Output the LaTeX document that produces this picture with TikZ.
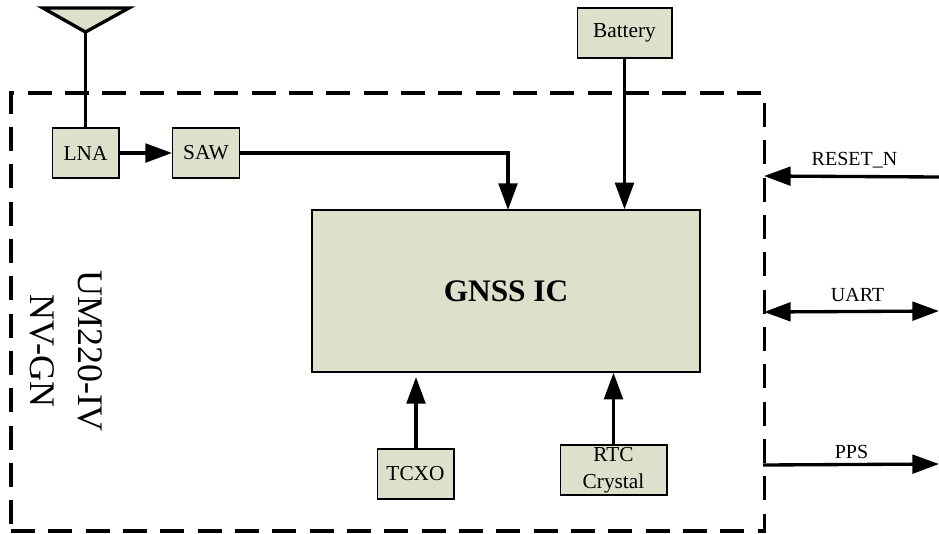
\documentclass[tikz,border=0pt]{standalone}
\usepackage{fontspec}
\setmainfont{Liberation Serif}
\usetikzlibrary{arrows.meta}
\definecolor{boxgreen}{HTML}{DDE0CB}
\tikzset{
  block/.style={draw,line width=1pt,fill=boxgreen,inner sep=0pt,align=center,font=\fontsize{16}{20}\selectfont},
  wire/.style={line width=2.5pt},
  sig/.style={wire,-{Triangle[length=20pt,width=14pt]}},
  siglabel/.style={inner sep=0pt,font=\fontsize{15}{18}\selectfont},
}
\begin{document}
\begin{tikzpicture}[x=0.75pt,y=-0.75pt]
            \useasboundingbox (0,0) rectangle (939,533);
            \node [draw,line width=2.5pt,dash pattern=on 18pt off 10pt,minimum width=565pt,minimum height=328.5pt,inner sep=0pt] (module) at (387.5,312) {};
            \node [block,minimum width=50pt,minimum height=37.5pt] (lna) at (85.5,153) {LNA};
            \node [block,minimum width=50pt,minimum height=37.5pt] (saw) at (206,153) {SAW};
            \node [block,minimum width=291pt,minimum height=121.5pt,font=\fontsize{23.5}{28}\selectfont\bfseries] (gnss) at (506,291) {GNSS IC};
            \node [block,minimum width=71pt,minimum height=37.5pt] (battery) at (624.5,33) {Battery};
            \node [block,minimum width=57.5pt,minimum height=37.5pt] (tcxo) at (415.5,474) {TCXO};
            \node [block,minimum width=80pt,minimum height=37.5pt] (rtc) at (613.5,470) {RTC\\Crystal};
            % antenna
            \draw [line width=2.5pt,line join=miter,fill=boxgreen] (43,8) -- (129,8) -- (85.5,32) -- cycle;
            \coordinate (ant) at (85.5,32);
            \draw [wire] (ant) -- (lna.north);
            \draw [sig] (lna.east) -- (saw.west);
            \coordinate (sawin) at (508,210);
            \draw [sig] (saw.east) -| (sawin);
            \draw [sig] (battery.south) -- (battery.south |- gnss.north);
            \coordinate (tcxoin) at (416,377);
            \draw [sig] (tcxo.north -| tcxoin) -- (tcxoin);
            \draw [sig] (rtc.north) -- (rtc.north |- gnss.south);
            % interface lines
            \coordinate (resetend) at (939,177);
            \coordinate (resetin) at (764,176);
            \coordinate (uartend) at (939,311);
            \coordinate (uartin) at (764,312);
            \coordinate (ppsend) at (939,464);
            \coordinate (ppsout) at (763,465);
            \draw [sig] (resetend) -- (resetin);
            \draw [sig,{Triangle[length=20pt,width=14pt]}-{Triangle[length=20pt,width=14pt]}] (uartin) -- (uartend);
            \draw [sig] (ppsout) -- (ppsend);
            \node [siglabel] (resetlabel) at (854.5,160) {RESET\_N};
            \node [siglabel] (uartlabel) at (857.5,295) {UART};
            \node [siglabel] (ppslabel) at (851.5,451.5) {PPS};
            \node [rotate=-90,align=center,inner sep=0pt,font=\fontsize{27}{36}\selectfont] (modname) at (66,351) {UM220-IV\\NV-GN};
        \end{tikzpicture}
\end{document}
